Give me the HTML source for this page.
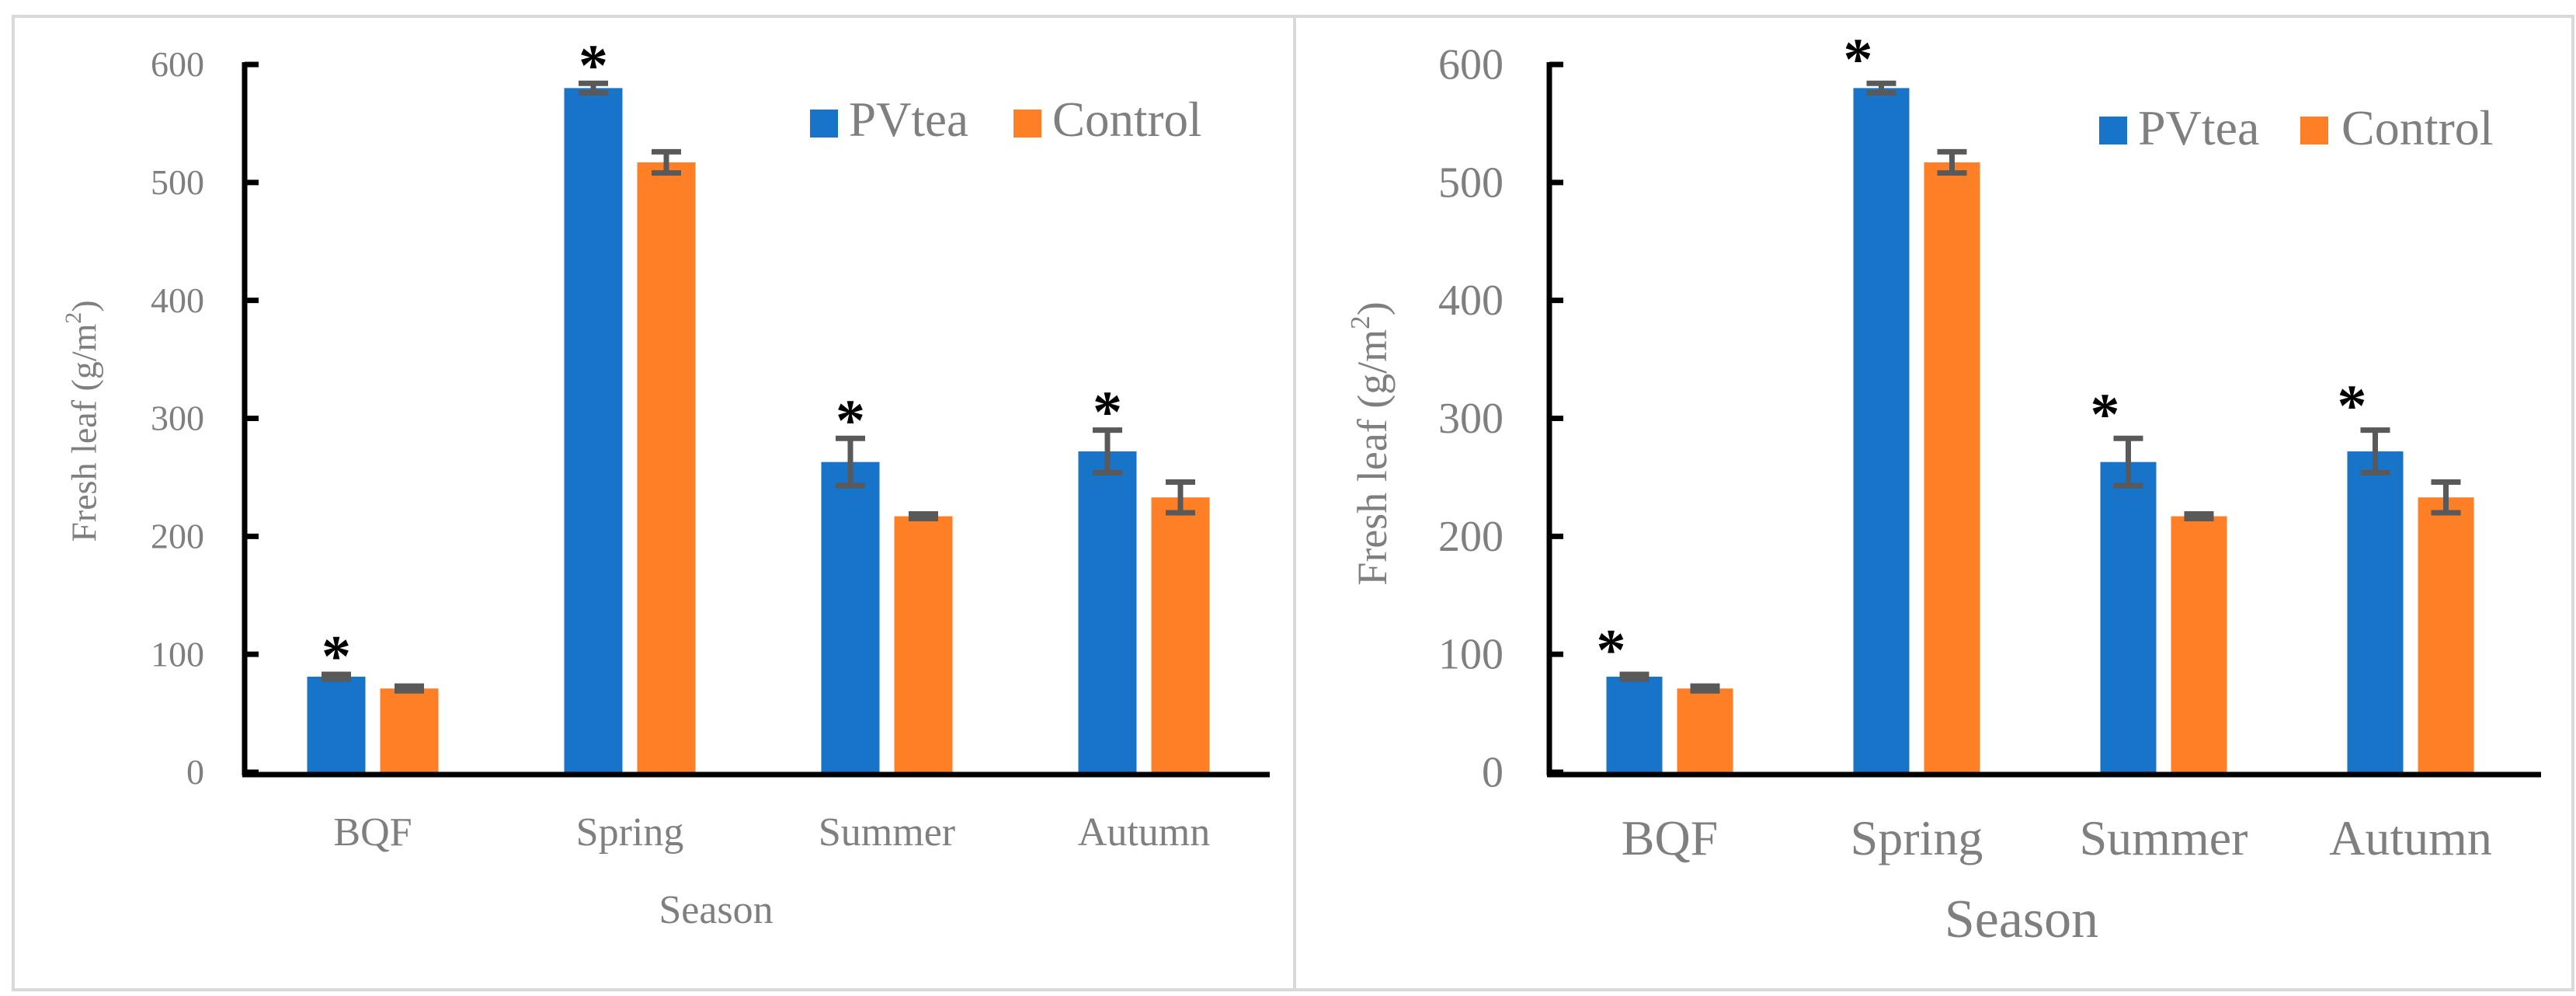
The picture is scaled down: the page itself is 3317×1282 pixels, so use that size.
<!DOCTYPE html>
<html><head><meta charset="utf-8"><style>
html,body{margin:0;padding:0;background:#fff;}
svg{display:block;}
text{font-family:"Liberation Serif",serif;}
</style></head><body>
<svg id="chart" width="3317" height="1282" viewBox="0 0 3317 1282" xmlns="http://www.w3.org/2000/svg">
<rect x="17" y="21" width="1650" height="1253" fill="none" stroke="#d9d9d9" stroke-width="4"/>
<rect x="1667" y="21" width="1646" height="1253" fill="none" stroke="#d9d9d9" stroke-width="4"/>
</svg>
<script>
const categories = ["BQF", "Spring", "Summer", "Autumn"];
const pvteaValues = [81, 580, 263, 272];
const controlValues = [71, 517, 217, 233];
const pvteaErrors = [2, 4, 20, 18];
const controlErrors = [2, 9, 2, 13];
const significantAll = [true, true, true, true];
const yTicks = [0, 100, 200, 300, 400, 500, 600];
const seriesNames = ["PVtea", "Control"];

const NS = "http://www.w3.org/2000/svg";
const svg = document.getElementById("chart");
function mk(tag, attrs, parent) {
  const e = document.createElementNS(NS, tag);
  for (const k in attrs) e.setAttribute(k, attrs[k]);
  (parent || svg).appendChild(e);
  return e;
}
const SERIF = "Liberation Serif, serif";

const panels = [
  {id:"left", ax:315, x1:1635, y0:994, y600:83, g0:480, gs:331, bw:75, gap:19,
   tickFs:46, tickRight:263, catFs:52, catY:1088, seasonFs:52, seasonX:922, seasonY:1188,
   ytX:108, ytY:542, ytFs:46, starDx:0, starGap:44,
   leg:{b:1043, bt:1093, o:1305, ot:1355, y:141, s:36, ty:175, fs:63}},
  {id:"right", ax:1995, x1:3272, y0:994, y600:83, g0:2150, gs:318, bw:72, gap:19,
   tickFs:56, tickRight:1936, catFs:64, catY:1100, seasonFs:70, seasonX:2603, seasonY:1206,
   ytX:1767, ytY:571, ytFs:54, starDx:-30, starGap:52,
   leg:{b:2703, bt:2753, o:2962, ot:3015, y:150, s:36, ty:186, fs:64}}
];

panels.forEach(p => {
  const g = mk("g", {});
  
  
  const yS = v => p.y0 - (p.y0 - p.y600) * v / 600;
  yTicks.forEach(t => {
    const tk = mk("line", {x1:p.ax, x2:p.ax+18, y1:yS(t), y2:yS(t), stroke:"#000", "stroke-width":7}, g);
    
    
    const tl = mk("text", {x:p.tickRight, y:yS(t)+p.tickFs*0.33, "text-anchor":"end", "font-size":p.tickFs, fill:"#7f7f7f", "font-family":SERIF}, g);
    tl.textContent = t;
    
    
  });
  categories.forEach((c, i) => {
    const cx = p.g0 + i * p.gs;
    const series = [[pvteaValues, pvteaErrors, "#1874c8", "pvtea"], [controlValues, controlErrors, "#ff7f27", "control"]];
    series.forEach((s, j) => {
      const x = j === 0 ? cx - p.gap/2 - p.bw : cx + p.gap/2;
      const v = s[0][i], e = s[1][i];
      const r = mk("rect", {x:x, y:yS(v), width:p.bw, height:p.y0 - yS(v), fill:s[2]}, g);
      
      
      const mx = x + p.bw/2;
      const eg = mk("g", {stroke:"#595959", "stroke-width":7}, g);
      
      
      mk("line", {x1:mx, x2:mx, y1:yS(v+e), y2:yS(v-e)}, eg);
      mk("line", {x1:mx-19, x2:mx+19, y1:yS(v+e), y2:yS(v+e)}, eg);
      mk("line", {x1:mx-19, x2:mx+19, y1:yS(v-e), y2:yS(v-e)}, eg);
      if (j === 0 && significantAll[i]) {
        const st = mk("text", {x:mx + p.starDx, y:yS(v+e) - p.starGap + 46, "text-anchor":"middle", "font-size":76, "font-weight":"bold", fill:"#000", "font-family":"Liberation Sans, sans-serif"}, g);
        st.textContent = "*";
        
        
      }
    });
    const cl = mk("text", {x:cx, y:p.catY, "text-anchor":"middle", "font-size":p.catFs, fill:"#7f7f7f", "font-family":SERIF}, g);
    cl.textContent = c;
    
    
  });
  const ya = mk("line", {x1:p.ax, x2:p.ax, y1:p.y600-3, y2:p.y0+4, stroke:"#000", "stroke-width":7}, g);
  
  
  const xa = mk("line", {x1:p.ax-3, x2:p.x1, y1:p.y0+3, y2:p.y0+3, stroke:"#000", "stroke-width":7}, g);
  
  
  const yt = mk("text", {x:p.ytX, y:p.ytY, "text-anchor":"middle", "font-size":p.ytFs, fill:"#7f7f7f", transform:"rotate(-90 "+p.ytX+" "+p.ytY+")", "dominant-baseline":"central", "font-family":SERIF}, g);
  yt.innerHTML = 'Fresh leaf (g/m<tspan dy="-' + (p.ytFs*0.3) + '" font-size="' + (p.ytFs*0.65) + '">2</tspan><tspan dy="' + (p.ytFs*0.3) + '">)</tspan>';
  
  
  const xt = mk("text", {x:p.seasonX, y:p.seasonY, "text-anchor":"middle", "font-size":p.seasonFs, fill:"#7f7f7f", "font-family":SERIF}, g);
  xt.textContent = "Season";
  
  
  const L = p.leg;
  const lg = mk("g", {}, g);
  
  
  [[L.b, L.bt, "#1874c8", seriesNames[0]], [L.o, L.ot, "#ff7f27", seriesNames[1]]].forEach(d => {
    const le = mk("g", {}, lg);
    
    
    mk("rect", {x:d[0], y:L.y, width:L.s, height:L.s, fill:d[2]}, le);
    const t = mk("text", {x:d[1], y:L.ty, "font-size":L.fs, fill:"#7f7f7f", "font-family":SERIF}, le);
    t.textContent = d[3];
  });
});
</script>
</body></html>
